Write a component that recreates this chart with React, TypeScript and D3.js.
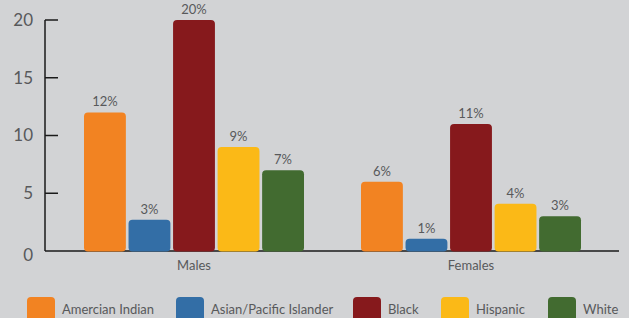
import { useEffect, useRef } from 'react';
import * as d3 from 'd3';

const groups = ['Males', 'Females'];
const races = ['Amercian Indian', 'Asian/Pacific Islander', 'Black', 'Hispanic', 'White'];
const maleValues = [12, 2.7, 20, 9, 7];
const femaleValues = [6, 1.05, 11, 4.1, 3];
const valueLabels = [['12%', '3%', '20%', '9%', '7%'], ['6%', '1%', '11%', '4%', '3%']];
const yTicks = [0, 5, 10, 15, 20];
const colors = ['#f28322', '#336ea6', '#86191c', '#fbb917', '#426b30'];
const legendX = [27, 176, 353, 441, 548];

export default function App() {
  const svgRef = useRef<SVGSVGElement>(null);

  useEffect(() => {
    if (!svgRef.current) return;
    const svg = d3.select(svgRef.current);
    svg.selectAll('*').remove();

    const W = 629, H = 318;
    const font = '"Lato", "Open Sans", sans-serif';
    const textColor = '#58595b';

    svg.append('rect').attr('width', W).attr('height', H).attr('fill', '#d2d3d5');

    const y = d3.scaleLinear().domain([0, 20]).range([251, 20]);
    const x0 = d3.scaleBand<string>().domain(groups).range([55.5, 609.5]);
    const x1 = d3.scaleBand<string>().domain(races)
      .range([0, x0.bandwidth()])
      .paddingInner(0.06)
      .paddingOuter(0.64);

    // Axes
    const g = svg.append('g');
    g.append('line')
      .attr('x1', 45).attr('x2', 45)
      .attr('y1', y(20)).attr('y2', y(0))
      .attr('stroke', '#1a1a1a').attr('stroke-width', 1.5);
    g.append('line')
      .attr('x1', 45).attr('x2', 619)
      .attr('y1', y(0)).attr('y2', y(0))
      .attr('stroke', '#1a1a1a').attr('stroke-width', 1.5);

    g.selectAll('.tick')
      .data(yTicks.filter(t => t > 0))
      .enter()
      .append('line')
      .attr('x1', 45).attr('x2', 58)
      .attr('y1', d => y(d)).attr('y2', d => y(d))
      .attr('stroke', '#1a1a1a').attr('stroke-width', 1.5);

    g.selectAll('.ylab')
      .data(yTicks)
      .enter()
      .append('text')
      .attr('x', 33)
      .attr('y', d => y(d) + (d === 0 ? 4 : 0))
      .attr('dy', '0.35em')
      .attr('text-anchor', 'end')
      .attr('font-family', font)
      .attr('font-size', 17)
      .attr('fill', textColor)
      .text(d => d);

    // Bars
    const series = [maleValues, femaleValues];
    groups.forEach((grp, gi) => {
      const gg = svg.append('g').attr('transform', `translate(${x0(grp)},0)`);
      gg.selectAll('rect')
        .data(series[gi])
        .enter()
        .append('rect')
        .attr('x', (_, i) => x1(races[i]) as number)
        .attr('y', d => y(d))
        .attr('width', x1.bandwidth())
        .attr('height', d => y(0) - y(d) + 0.5)
        .attr('rx', 4)
        .attr('fill', (_, i) => colors[i]);

      gg.selectAll('.val')
        .data(series[gi])
        .enter()
        .append('text')
        .attr('x', (_, i) => (x1(races[i]) as number) + x1.bandwidth() / 2)
        .attr('y', d => y(d) - 6)
        .attr('text-anchor', 'middle')
        .attr('font-family', font)
        .attr('font-size', 13)
        .attr('fill', textColor)
        .text((_, i) => valueLabels[gi][i]);

      gg.append('text')
        .attr('x', x0.bandwidth() / 2)
        .attr('y', 270)
        .attr('text-anchor', 'middle')
        .attr('font-family', font)
        .attr('font-size', 13)
        .attr('fill', textColor)
        .text(grp);
    });

    // Legend
    const legend = svg.append('g');
    races.forEach((r, i) => {
      legend.append('rect')
        .attr('x', legendX[i]).attr('y', 297)
        .attr('width', 28).attr('height', 26)
        .attr('rx', 4)
        .attr('fill', colors[i]);
      legend.append('text')
        .attr('x', legendX[i] + 35)
        .attr('y', 314)
        .attr('font-family', font)
        .attr('font-size', 13)
        .attr('fill', textColor)
        .text(r);
    });
  }, []);

  return (
    <svg
      ref={svgRef}
      width={629}
      height={318}
      style={{ position: 'absolute', top: 0, left: 0, display: 'block' }}
    />
  );
}
